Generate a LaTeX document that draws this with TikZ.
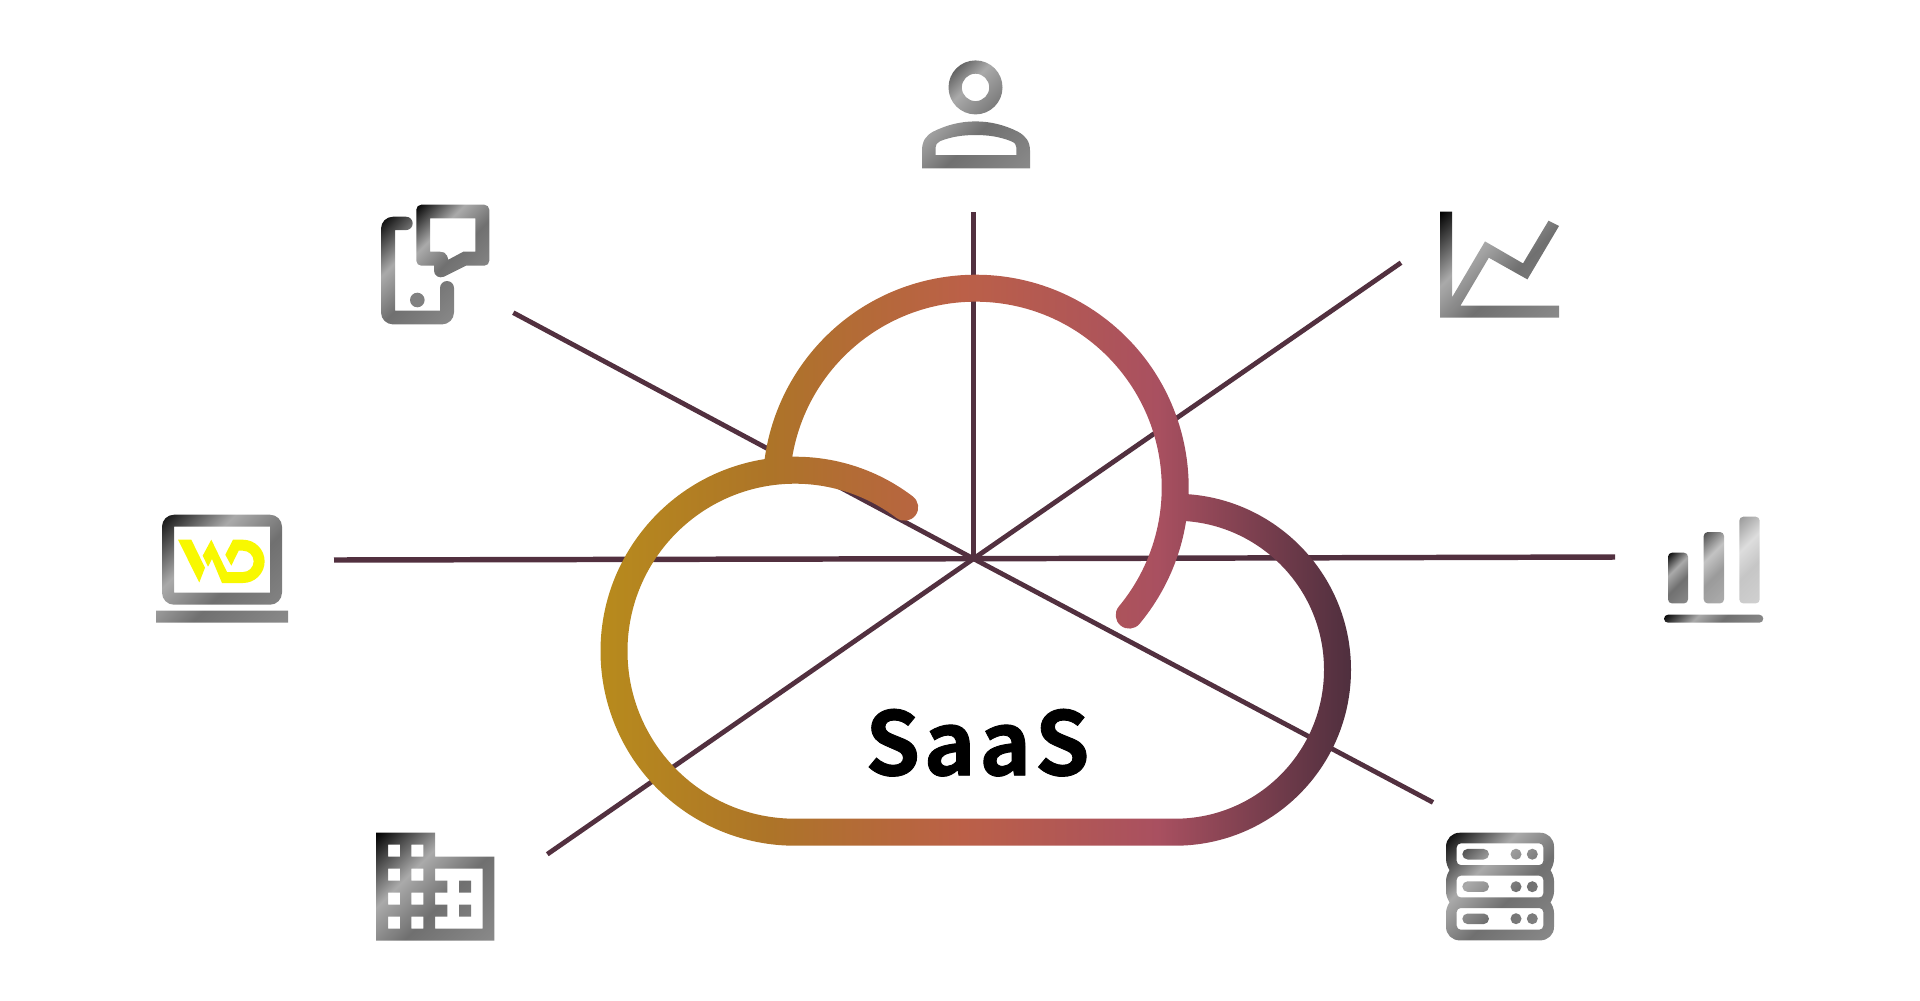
\documentclass[tikz,border=0pt]{standalone}
\usepackage{fontspec}
\newfontfamily\saasfont{Noto Sans CJK SC}[BoldFont={* Bold},BoldFeatures={FakeBold=1},LetterSpace=4]
\definecolor{spokecol}{HTML}{52303F}
\definecolor{logocol}{HTML}{F8F800}
\definecolor{dotcol}{HTML}{808080}
\definecolor{metalhi}{HTML}{AAAAAA}
\definecolor{metallow}{HTML}{707070}
\definecolor{metalend}{HTML}{8A8A8A}
\definecolor{cloudA}{HTML}{B98E1B}
\definecolor{cloudB}{HTML}{AD7428}
\definecolor{cloudC}{HTML}{BB6048}
\definecolor{cloudD}{HTML}{A95060}
\definecolor{cloudE}{HTML}{4F2F3E}
\pgfdeclarehorizontalshading{metal}{100bp}{color(0bp)=(black); color(14.65bp)=(black); color(37.98bp)=(metalhi); color(57.07bp)=(metallow); color(85.35bp)=(metalend); color(100bp)=(metalend)}
\pgfdeclarehorizontalshading{cloudgrad}{100bp}{color(0bp)=(cloudA); color(25bp)=(cloudA); color(37.5bp)=(cloudB); color(50bp)=(cloudC); color(62.5bp)=(cloudD); color(75bp)=(cloudE); color(100bp)=(cloudE)}
\tikzset{
  spoke/.style={-,draw=spokecol,line width=3.6pt},
  spokewide/.style={-,draw=spokecol,line width=4.1pt},
  icon/.style={shading=metal,shading angle=-45,even odd rule},
  cloudline/.style={shading=cloudgrad,shading angle=0}
}
\begin{document}
\begin{tikzpicture}[x=0.75pt,y=0.75pt,yscale=-1]
\useasboundingbox (0,-0.7) rectangle (1920,999.3);
\coordinate (hub) at (973.5,558);
\coordinate (spokeN) at (973.5,211);
\coordinate (spokeNE) at (1401,262);
\coordinate (spokeE) at (1615,556.3);
\coordinate (spokeSE) at (1433,801.7);
\coordinate (spokeSW) at (547.3,853.5);
\coordinate (spokeW) at (334,559.3);
\coordinate (spokeNW) at (513.3,312);
\path [spoke] (hub) edge (spokeN);
\path [spoke] (hub) edge (spokeNE);
\path [spokewide] (hub) edge (spokeE);
\path [spoke] (hub) edge (spokeSE);
\path [spoke] (hub) edge (spokeSW);
\path [spokewide] (hub) edge (spokeW);
\path [spoke] (hub) edge (spokeNW);
% cloud
\coordinate (lobeL) at (795,650.5);
\coordinate (lobeR) at (1175,669);
\coordinate (lobeT) at (975.7,487);
\shade [cloudline]
  (lobeL) ++(-52.7:194.5) arc[start angle=-52.7,end angle=-270,radius=194.5]
  -- ++(380,0) arc[start angle=90,end angle=-90,radius=176]
  -- ++(0,27) arc[start angle=-90,end angle=90,radius=149]
  -- ++(-380,0) arc[start angle=-270,end angle=-52.7,radius=167.5]
  arc[start angle=127.3,end angle=-52.7,radius=13.5] -- cycle
  (lobeT) ++(39.7:213) arc[start angle=39.7,end angle=-173,radius=213]
  -- ++(-173:-27) arc[start angle=-173,end angle=39.7,radius=186]
  arc[start angle=219.7,end angle=39.7,radius=13.5] -- cycle;
\node [font=\saasfont\bfseries\fontsize{66}{66}\selectfont,inner sep=0pt] (saas) at (977.5,742) {SaaS};
% person
\shade [icon] (975.5,86.7) circle[radius=27] (975.5,86.7) circle[radius=13.7]
  (922,167.7) -- (922,150) .. controls (922,140) and (926,135) .. (933,131)
  .. controls (947,124) and (961,120.7) .. (975.5,120.7)
  .. controls (990,120.7) and (1004,124) .. (1018,131)
  .. controls (1025,135) and (1030,140) .. (1030,150) -- (1030,167.7) -- cycle
  (935.5,154.3) -- (935.5,147) .. controls (935.5,144) and (937,142) .. (940,140.5)
  .. controls (951,136) and (963,134.3) .. (975.5,134.3)
  .. controls (988,134.3) and (1000,136) .. (1011,140.5)
  .. controls (1015,142) and (1016.4,144) .. (1016.4,147) -- (1016.4,154.3) -- cycle;
% chart
\shade [icon] (1440,211) -- (1452,211) -- (1452,296.7) -- (1485,240.7) -- (1523,262.7) -- (1548.5,220)
  -- (1559,225.3) -- (1527.4,278.7) -- (1488.8,257) -- (1460.4,305) -- (1559,305) -- (1559,317) -- (1440,317) -- cycle;
% bars
\shade [icon,rounded corners=3pt] (1668,552) rectangle (1688,602.7);
\shade [icon,opacity=0.7,rounded corners=3pt] (1703.7,531.3) rectangle (1724,602.7);
\shade [icon,opacity=0.4,rounded corners=3pt] (1739.3,516) rectangle (1759.7,602.7);
\shade [icon,rounded corners=3pt] (1664,614) rectangle (1763.3,622);
% server
\shade [icon] (1460,832) -- (1540,832) .. controls (1548,832) and (1554,838) .. (1554,846) -- (1554,858)
  .. controls (1554,863) and (1552,867) .. (1550.5,869.5) .. controls (1552,872) and (1554,876) .. (1554,880) -- (1554,891)
  .. controls (1554,895) and (1552,899) .. (1550.5,901.7) .. controls (1552,904) and (1554,908) .. (1554,912) -- (1554,926)
  .. controls (1554,934) and (1548,939.7) .. (1540,939.7) -- (1460,939.7)
  .. controls (1452,939.7) and (1446,934) .. (1446,926) -- (1446,912)
  .. controls (1446,908) and (1448,904) .. (1449.5,901.7) .. controls (1448,899) and (1446,895) .. (1446,891) -- (1446,880)
  .. controls (1446,876) and (1448,872) .. (1449.5,869.5) .. controls (1448,867) and (1446,863) .. (1446,858) -- (1446,846)
  .. controls (1446,838) and (1452,832) .. (1460,832) -- cycle
  [rounded corners=3pt]
  (1456.7,842.7) rectangle (1543.3,864.3)
  (1456.7,875) rectangle (1543.3,896.7)
  (1456.7,907.3) rectangle (1543.3,929)
  [rounded corners=4pt]
  (1462.3,848.2) rectangle (1489,858.8)
  (1462.3,880.6) rectangle (1489,891.2)
  (1462.3,912.8) rectangle (1489,923.4)
  [sharp corners]
  (1516,853.5) circle[radius=5.5] (1532.3,853.5) circle[radius=5.5]
  (1516,886) circle[radius=5.5] (1532.3,886) circle[radius=5.5]
  (1516,918) circle[radius=5.5] (1532.3,918) circle[radius=5.5];
% building
\shade [icon] (376,832) -- (435,832) -- (435,856) -- (494.3,856) -- (494.3,940) -- (376,940) -- cycle
  (388,844) rectangle (400,856) (411.3,844) rectangle (423.3,856)
  (388,868) rectangle (400,880) (411.3,868) rectangle (423.3,880)
  (388,892) rectangle (400,904) (411.3,892) rectangle (423.3,904)
  (388,916) rectangle (400,928) (411.3,916) rectangle (423.3,928)
  (435,868) -- (482.7,868) -- (482.7,928) -- (435,928) -- (435,916) -- (447.3,916) -- (447.3,904) -- (435,904)
  -- (435,892) -- (447.3,892) -- (447.3,880) -- (435,880) -- cycle
  (459,880) rectangle (471,892) (459,904) rectangle (471,916);
% laptop
\shade [icon] (162,526) arc[start angle=180,end angle=270,radius=12] -- (270,514) arc[start angle=-90,end angle=0,radius=12]
  -- (282,592) arc[start angle=0,end angle=90,radius=12] -- (174,604) arc[start angle=90,end angle=180,radius=12] -- cycle
  (174,526) rectangle (270,592)
  (156,610) rectangle (288,622);
\fill [logocol] (178,539) -- (191.3,539) -- (205,567) -- (199.3,581.7) -- cycle;
\fill [logocol] (202.7,555) -- (211.3,539) -- (227,571.3) -- (243,571.3) arc[start angle=90,end angle=-90,radius=10.65]
  -- (238.7,550) -- (231.3,565) -- (225.3,554) -- (233,539) -- (243,539) arc[start angle=-90,end angle=90,radius=21.65]
  -- (222,582.3) -- (212,558.3) -- (208,566) -- cycle;
% phone
\shade [icon] (406,216) -- (393,216) arc[start angle=-90,end angle=-180,radius=12] -- (381,311.7)
  arc[start angle=180,end angle=90,radius=12] -- (442,323.7) arc[start angle=90,end angle=0,radius=12]
  -- (454,287.3) arc[start angle=0,end angle=-180,radius=7] -- (440,310) -- (395,310) -- (395,229.4) -- (406,229.4)
  arc[start angle=90,end angle=-90,radius=6.7] -- cycle;
\shade [icon] (421.3,204) -- (484.3,204) arc[start angle=-90,end angle=0,radius=5] -- (489.3,260)
  arc[start angle=0,end angle=90,radius=5] -- (466,265) -- (444,276) .. controls (439,278) and (434,275) .. (434,270)
  -- (434,265) -- (421.3,265) arc[start angle=90,end angle=180,radius=5] -- (416.3,209) arc[start angle=180,end angle=270,radius=5] -- cycle
  (430,217.7) -- (475.3,217.7) -- (475.3,251) -- (463.3,251) -- (448.3,259) -- (447,255) .. controls (446,252) and (443,251) .. (440,251)
  -- (430,251) -- cycle;
\fill [dotcol] (417.3,299.3) circle[radius=7.3];
\end{tikzpicture}
\end{document}
